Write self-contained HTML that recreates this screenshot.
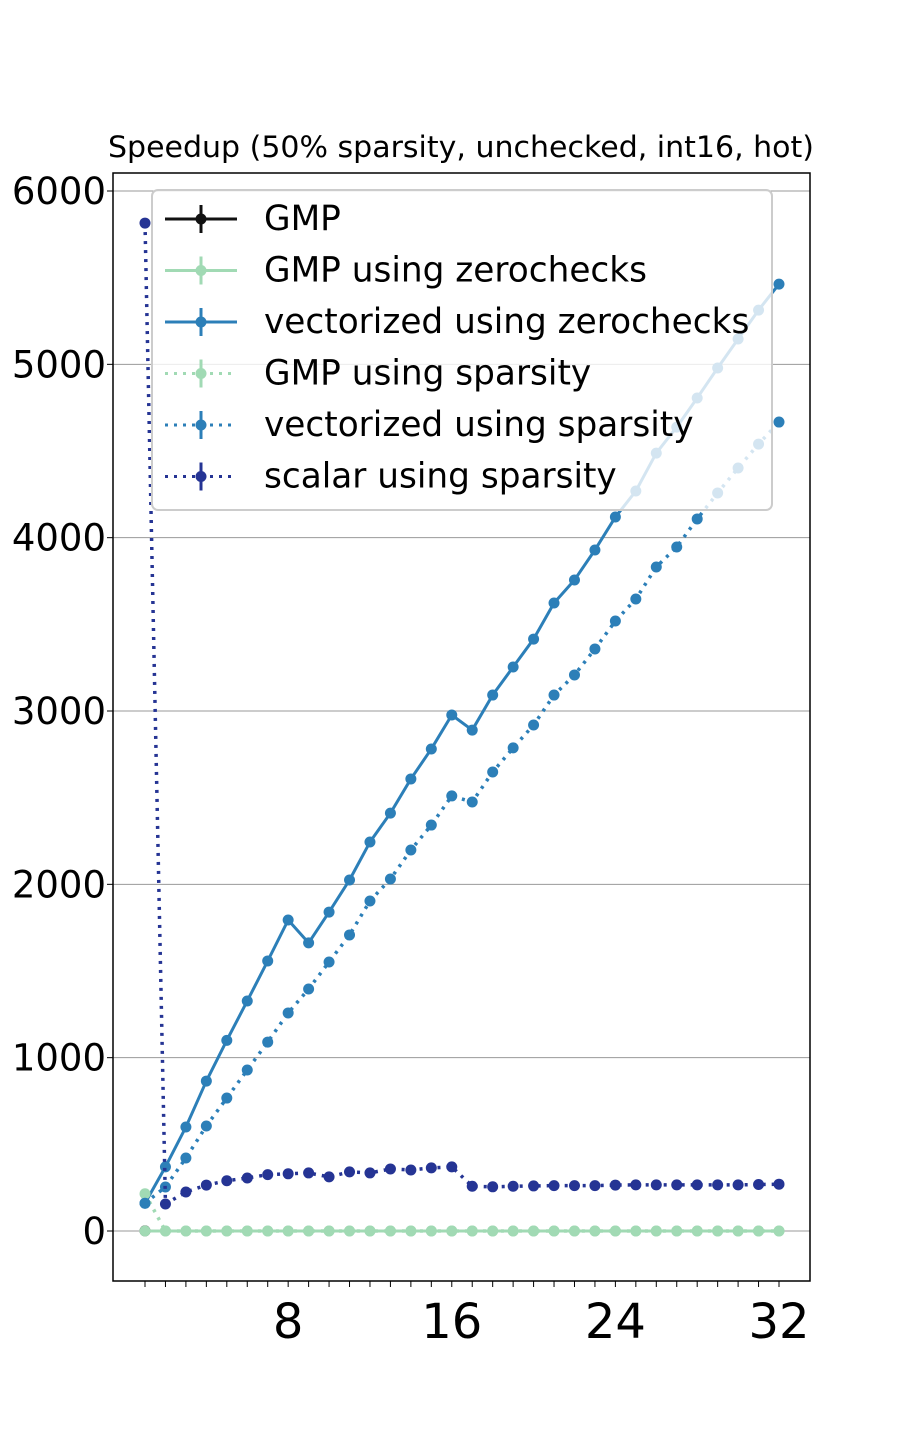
<!DOCTYPE html>
<html><head><meta charset="utf-8"><style>body{margin:0;background:#fff}svg{display:block;font-family:"DejaVu Sans","Liberation Sans",sans-serif}</style></head>
<body>
<svg id="chart" width="900" height="1440" viewBox="0 0 900 1440" xmlns="http://www.w3.org/2000/svg">
<rect width="900" height="1440" fill="#fff"/>
<text x="461" y="157" font-size="29" text-anchor="middle" fill="#000" textLength="706" lengthAdjust="spacingAndGlyphs">Speedup (50% sparsity, unchecked, int16, hot)</text>
<g id="grid"></g><g id="series"></g><g id="axes"></g><g id="legend"></g>
</svg>
<script>
const threads = Array.from({length:32},(_,i)=>i+1);
const yTicks = [0,1000,2000,3000,4000,5000,6000];
const xTickLabels = [8,16,24,32];
const gmp = [1];
const gmpZero = [0,0,0,0,0,0,0,0,0,0,0,0,0,0,0,0,0,0,0,0,0,0,0,0,0,0,0,0,0,0,0,0];
const vecZero = [160,370,600,865,1100,1327,1558,1794,1662,1840,2025,2244,2411,2608,2781,2977,2890,3092,3254,3415,3623,3756,3929,4119,4269,4488,4638,4806,4979,5146,5313,5463];
const gmpSparse = [215,0,0,0,0,0,0,0,0,0,0,0,0,0,0,0,0,0,0,0,0,0,0,0,0,0,0,0,0,0,0,0];
const vecSparse = [160,254,421,606,767,929,1090,1258,1396,1552,1708,1904,2031,2198,2342,2510,2475,2648,2787,2919,3092,3208,3358,3519,3646,3831,3946,4108,4258,4402,4540,4667];
const scalarSparse = [5815,156,225,265,290,306,325,330,335,312,341,335,358,352,364,370,258,255,258,260,262,262,262,265,266,266,266,266,266,266,268,270];
const seriesNames = ["GMP","GMP using zerochecks","vectorized using zerochecks","GMP using sparsity","vectorized using sparsity","scalar using sparsity"];

const NS="http://www.w3.org/2000/svg";
const L=113,R=810,T=173,B=1281;
const X=v=>145+(v-1)*(779-145)/31;
const Y=v=>1231-v*(1231-191)/6000;
function mk(tag,attrs,parent){const e=document.createElementNS(NS,tag);for(const k in attrs)e.setAttribute(k,attrs[k]);parent.appendChild(e);return e;}
const grid=document.getElementById('grid'),axes=document.getElementById('axes'),ser=document.getElementById('series'),leg=document.getElementById('legend');

yTicks.forEach(t=>{
  const g=mk('line',{x1:L,x2:R,y1:Y(t),y2:Y(t),stroke:'#999','stroke-width':1},grid);
  
  
  mk('line',{x1:L-6,x2:L,y1:Y(t),y2:Y(t),stroke:'#000','stroke-width':1},axes);
  const tx=mk('text',{x:106,y:Y(t)+13,'font-size':37,'text-anchor':'end'},axes);
  tx.textContent=t;
  
  
});
threads.forEach(t=>{mk('line',{x1:X(t),x2:X(t),y1:B,y2:B+6,stroke:'#000','stroke-width':1},axes);});
xTickLabels.forEach(t=>{
  const tx=mk('text',{x:X(t),y:1338,'font-size':48,'text-anchor':'middle'},axes);
  tx.textContent=t;
  
  
});
const frame=mk('rect',{x:L,y:T,width:R-L,height:B-T,fill:'none',stroke:'#000','stroke-width':1.5},axes);



const defs=[
 {d:gmp,c:'#111',dash:null,n:'gmp'},
 {d:gmpZero,c:'#a1dab4',dash:null,n:'gmp-zerochecks'},
 {d:vecZero,c:'#2c7fb8',dash:null,n:'vectorized-zerochecks'},
 {d:gmpSparse,c:'#a1dab4',dash:'3,6',n:'gmp-sparsity'},
 {d:vecSparse,c:'#2c7fb8',dash:'3,6',n:'vectorized-sparsity'},
 {d:scalarSparse,c:'#253494',dash:'3,6',n:'scalar-sparsity'}];
defs.forEach(s=>{
  const g=mk('g',{},ser);
  
  
  const pts=s.d.map((v,i)=>X(threads[i])+','+Y(v)).join(' ');
  const a={points:pts,fill:'none',stroke:s.c,'stroke-width':s.dash?3.5:3,'stroke-linejoin':'round'};
  if(s.dash)a['stroke-dasharray']=s.dash;
  mk('polyline',a,g);
  s.d.forEach((v,i)=>{
    const p=mk('circle',{cx:X(threads[i]),cy:Y(v),r:5.5,fill:s.c},g);
    
    
  });
});

const box=mk('rect',{x:152,y:190,width:620,height:320,rx:6,fill:'#fff','fill-opacity':0.8,stroke:'#ccc','stroke-width':2},leg);


defs.forEach((s,i)=>{
  const y=219+i*51.5;
  const g=mk('g',{},leg);
  
  
  const a={x1:165,x2:237,y1:y,y2:y,stroke:s.c,'stroke-width':3};
  if(s.dash)a['stroke-dasharray']=s.dash;
  mk('line',a,g);
  mk('line',{x1:201,x2:201,y1:y-14,y2:y+14,stroke:s.c,'stroke-width':3},g);
  mk('circle',{cx:201,cy:y,r:5.5,fill:s.c},g);
  const tx=mk('text',{x:264,y:y+11,'font-size':34.3},g);
  tx.textContent=seriesNames[i];
});
</script>
</body></html>
